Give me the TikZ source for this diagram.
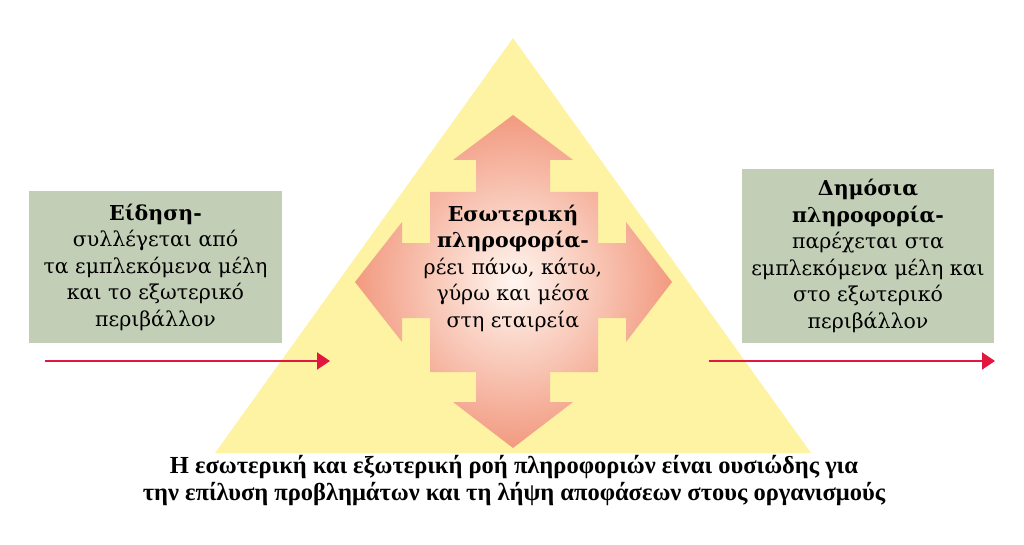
\documentclass[tikz,border=0pt]{standalone}
\usepackage{fontspec}
\setmainfont{Liberation Serif}
\newfontfamily\greekserif{DejaVu Serif}
\usetikzlibrary{arrows.meta,positioning}
\definecolor{pyryellow}{HTML}{FDF3A2}
\definecolor{boxgreen}{HTML}{C2CEB6}
\definecolor{flowred}{HTML}{E2173F}
\definecolor{crossout}{HTML}{F29A80}
\definecolor{crossin}{HTML}{FFF6F0}

\begin{document}
\begin{tikzpicture}[x=1pt,y=-1pt,
    infotext/.style={align=center,font=\greekserif\fontsize{20.5}{26.5}\selectfont},
    infobox/.style={infotext,fill=boxgreen,inner sep=0pt},
    flow/.style={-{Triangle[length=13pt,width=17pt]},flowred,line width=2pt}]

    \useasboundingbox (0,0) rectangle (1024,545);

    % pyramid and the four-way arrow
    \fill[pyryellow] (215,453) -- (513,38) -- (811,453) -- cycle;
    \shade[inner color=crossin,outer color=crossout]
        (430,192) -- (476,192) -- (476,160) -- (453,160) -- (513,115) -- (573,160) -- (550,160) -- (550,192)
        -- (598,192) -- (598,243) -- (626,243) -- (626,222) -- (672,282) -- (626,342) -- (626,318) -- (598,318)
        -- (598,372) -- (550,372) -- (550,402) -- (573,402) -- (513,448) -- (453,402) -- (476,402) -- (476,372)
        -- (430,372) -- (430,318) -- (402,318) -- (402,342) -- (355,282) -- (402,222) -- (402,243) -- (430,243) -- cycle;

    \node[infotext] (core) at (513,268)
        {\textbf{Εσωτερική}\\ \textbf{πληροφορία-}\\ ρέει πάνω, κάτω,\\ γύρω και μέσα\\ στη εταιρεία};

    \node[infobox,minimum width=253pt,minimum height=152pt] (news) at (155.5,267)
        {\textbf{Είδηση-}\\ συλλέγεται από\\ τα εμπλεκόμενα μέλη\\ και το εξωτερικό\\ περιβάλλον};
    \node[infobox,minimum width=252pt,minimum height=174pt] (pub) at (868,256)
        {\textbf{Δημόσια}\\ \textbf{πληροφορία-}\\ παρέχεται στα\\ εμπλεκόμενα μέλη και\\ στο εξωτερικό\\ περιβάλλον};

    \coordinate (in_s) at (45,361);
    \coordinate (in_e) at (330,361);
    \coordinate (out_s) at (709,361);
    \coordinate (out_e) at (995,361);

    \draw[flow] (in_s) -- (in_e);
    \draw[flow] (out_s) -- (out_e);

    \node[align=center,font=\fontsize{24.5}{27}\selectfont\bfseries] (summary) at (514,480)
        {Η εσωτερική και εξωτερική ροή πληροφοριών είναι ουσιώδης για\\ την επίλυση προβλημάτων και τη λήψη αποφάσεων στους οργανισμούς};

\end{tikzpicture}
\end{document}
